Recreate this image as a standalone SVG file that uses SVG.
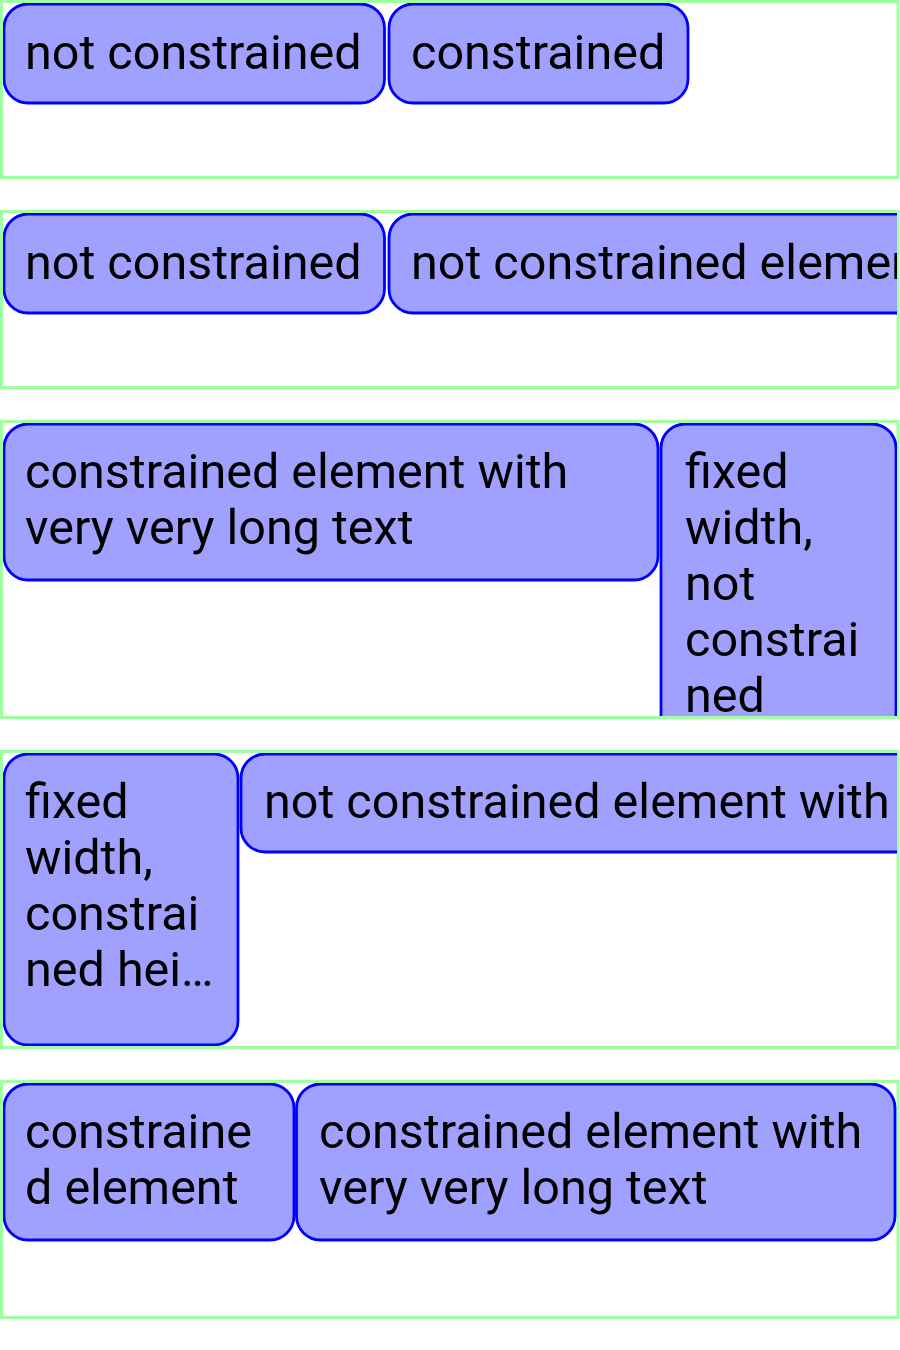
<svg xmlns="http://www.w3.org/2000/svg" width="900" height="1350" viewBox="0 0 900 1350">
  <style>
    .frame { fill: #ffffff; stroke: #a0ffa0; stroke-width: 3; }
    .box { fill: #a0a0ff; stroke: #0000ff; stroke-width: 2.8; }
    .label { font-family: Roboto, "Liberation Sans", sans-serif; font-size: 48.5px; fill: #000000; }
  </style>
  <defs>
    <clipPath id="clip-row1"><rect x="3" y="3" width="894" height="173"/></clipPath>
    <clipPath id="clip-row2"><rect x="3" y="213" width="894" height="173"/></clipPath>
    <clipPath id="clip-row3"><rect x="3" y="423" width="894" height="293"/></clipPath>
    <clipPath id="clip-row4"><rect x="3" y="753" width="894" height="293"/></clipPath>
    <clipPath id="clip-row5"><rect x="3" y="1083" width="894" height="233"/></clipPath>
  </defs>

  <!-- row 1 -->
  <g id="row1">
    <rect class="frame" x="1.5" y="1.5" width="896.5" height="176"/>
    <g clip-path="url(#clip-row1)">
      <g id="row1-not-constrained">
        <rect class="box" x="4" y="4" width="380.5" height="99" rx="24"/>
        <text class="label" x="25" y="69">not constrained</text>
      </g>
      <g id="row1-constrained">
        <rect class="box" x="389" y="4" width="299" height="99" rx="24"/>
        <text class="label" x="411" y="69">constrained</text>
      </g>
    </g>
  </g>

  <!-- row 2 -->
  <g id="row2">
    <rect class="frame" x="1.5" y="211.5" width="896.5" height="176"/>
    <g clip-path="url(#clip-row2)">
      <g id="row2-not-constrained">
        <rect class="box" x="4" y="214" width="380.5" height="99" rx="24"/>
        <text class="label" x="25" y="279">not constrained</text>
      </g>
      <g id="row2-long">
        <rect class="box" x="389" y="214" width="700" height="99" rx="24"/>
        <text class="label" x="411" y="279">not constrained element</text>
      </g>
    </g>
  </g>

  <!-- row 3 -->
  <g id="row3">
    <rect class="frame" x="1.5" y="421.5" width="896.5" height="296"/>
    <g clip-path="url(#clip-row3)">
      <g id="row3-constrained">
        <rect class="box" x="4" y="424" width="654" height="156" rx="24"/>
        <text class="label" x="25" y="488">
          <tspan x="25" y="488">constrained element with</tspan>
          <tspan x="25" y="544">very very long text</tspan>
        </text>
      </g>
      <g id="row3-fixed">
        <rect class="box" x="661" y="424" width="235" height="323" rx="24"/>
        <text class="label" x="685" y="488">
          <tspan x="685" y="488">fixed</tspan>
          <tspan x="685" y="544">width,</tspan>
          <tspan x="685" y="600">not</tspan>
          <tspan x="685" y="656">constrai</tspan>
          <tspan x="685" y="712">ned</tspan>
        </text>
      </g>
    </g>
  </g>

  <!-- row 4 -->
  <g id="row4">
    <rect class="frame" x="1.5" y="751.5" width="896.5" height="296"/>
    <g clip-path="url(#clip-row4)">
      <g id="row4-fixed">
        <rect class="box" x="4" y="754" width="234" height="291" rx="24"/>
        <text class="label" x="25" y="818">
          <tspan x="25" y="818">fixed</tspan>
          <tspan x="25" y="874">width,</tspan>
          <tspan x="25" y="930">constrai</tspan>
          <tspan x="25" y="986">ned hei…</tspan>
        </text>
      </g>
      <g id="row4-long">
        <rect class="box" x="241" y="754" width="800" height="98" rx="24"/>
        <text class="label" x="264" y="818">not constrained element with</text>
      </g>
    </g>
  </g>

  <!-- row 5 -->
  <g id="row5">
    <rect class="frame" x="1.5" y="1081.5" width="896.5" height="236"/>
    <g clip-path="url(#clip-row5)">
      <g id="row5-short">
        <rect class="box" x="4" y="1084" width="290" height="156" rx="24"/>
        <text class="label" x="25" y="1148">
          <tspan x="25" y="1148">constraine</tspan>
          <tspan x="25" y="1204">d element</tspan>
        </text>
      </g>
      <g id="row5-long">
        <rect class="box" x="296.5" y="1084" width="598.5" height="156" rx="24"/>
        <text class="label" x="319" y="1148">
          <tspan x="319" y="1148">constrained element with</tspan>
          <tspan x="319" y="1204">very very long text</tspan>
        </text>
      </g>
    </g>
  </g>
</svg>
